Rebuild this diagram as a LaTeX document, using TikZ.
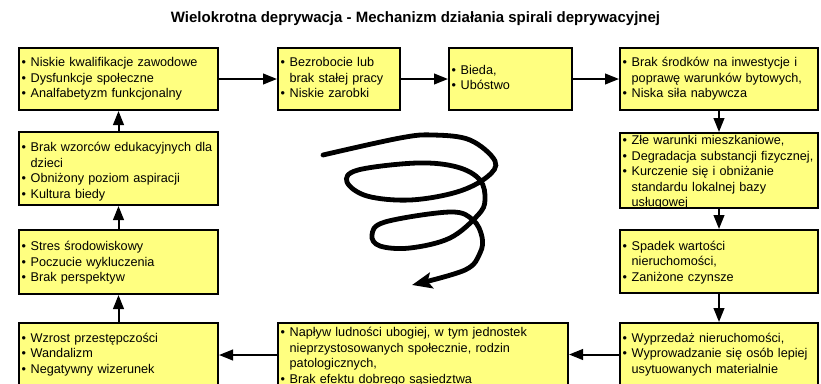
\documentclass[tikz,border=0pt]{standalone}
\usepackage{fontspec}
\setmainfont{Liberation Sans}
\usetikzlibrary{arrows.meta}
\definecolor{boxyellow}{HTML}{FFFF80}
\newcommand\bul{\makebox[6.75pt][l]{\textbullet}}
\newcommand\lst[1]{\noindent\begin{tabular}{@{}l@{}l@{}}#1\end{tabular}}
% shifted list: #1 = move text down, #2 = trim top and bottom
\newcommand\lsts[3]{\noindent\raisebox{0pt}[\dimexpr\height+#1-#2][\dimexpr\depth-#1-#2]{\begin{tabular}{@{}l@{}l@{}}#3\end{tabular}}}
\begin{document}
\begin{tikzpicture}[x=0.75pt,y=-0.75pt,
  box/.style={draw=black, line width=1.5pt, fill=boxyellow, inner xsep=2pt, inner ysep=0pt,
    align=left, font=\fontsize{9.5}{11.6}\selectfont},
  wide/.style={box, text width=145.25pt},
  arr/.style={line width=1.5pt, -{Triangle[length=10.5pt,width=8pt]}},
  spiral/.style={line width=3.6pt, line cap=round, -{Stealth[length=15pt,width=12pt,inset=3pt]}}]
\useasboundingbox (0,0) rectangle (821,383);
\fill[white] (0,0) rectangle (821,383);
\clip (0,0) rectangle (821,383);

\node[font=\bfseries\fontsize{11.25}{13}\selectfont] (title) at (415.5,18.5)
  {Wielokrotna deprywacja - Mechanizm działania spirali deprywacyjnej};

% top row
\node[wide, minimum height=46.5pt] (b1) at (118.5,79)
  {\lst{\bul&Niskie kwalifikacje zawodowe\\ \bul&Dysfunkcje społeczne\\ \bul&Analfabetyzm funkcjonalny}};
\node[box, text width=87.5pt, minimum height=46.5pt] (b2) at (339,79)
  {\lst{\bul&Bezrobocie lub\\ &brak stałej pracy\\ \bul&Niskie zarobki}};
\node[box, text width=88.25pt, minimum height=46.5pt] (b3) at (510.5,79)
  {\lst{\bul&Bieda,\\ \bul&Ubóstwo}};
\node[box, text width=144.5pt, minimum height=46.5pt] (b4) at (719,79)
  {\lst{\bul&Brak środków na inwestycje i\\ &poprawę warunków bytowych,\\ \bul&Niska siła nabywcza}};

% right column
\node[box, text width=144.5pt, minimum height=56.25pt] (b5) at (719,170.5)
  {\lsts{1.5pt}{1pt}{\bul&Złe warunki mieszkaniowe,\\ \bul&Degradacja substancji fizycznej,\\ \bul&Kurczenie się i obniżanie\\ &standardu lokalnej bazy\\ &usługowej}};
\node[box, text width=144.5pt, minimum height=47.25pt] (b6) at (719,261.5)
  {\lsts{0.8pt}{0pt}{\bul&Spadek wartości\\ &nieruchomości,\\ \bul&Zaniżone czynsze}};
\node[box, text width=144.5pt, minimum height=47.25pt] (b7) at (719,354.5)
  {\lst{\bul&Wyprzedaż nieruchomości,\\ \bul&Wyprowadzanie się osób lepiej\\ &usytuowanych materialnie}};

% bottom middle
\node[box, text width=213.5pt, minimum height=48pt] (b8) at (423,355)
  {\lsts{1.5pt}{0pt}{\bul&Napływ ludności ubogiej, w tym jednostek\\ &nieprzystosowanych społecznie, rodzin\\ &patologicznych,\\ \bul&Brak efektu dobrego sąsiedztwa}};

% left column
\node[wide, minimum height=47.25pt] (b9) at (118.5,354.5)
  {\lst{\bul&Wzrost przestępczości\\ \bul&Wandalizm\\ \bul&Negatywny wizerunek}};
\node[wide, minimum height=48pt] (b10) at (118.5,262)
  {\lsts{0.8pt}{0pt}{\bul&Stres środowiskowy\\ \bul&Poczucie wykluczenia\\ \bul&Brak perspektyw}};
\node[wide, minimum height=54.75pt] (b11) at (118.5,168.5)
  {\lsts{2.6pt}{0pt}{\bul&Brak wzorców edukacyjnych dla\\ &dzieci\\ \bul&Obniżony poziom aspiracji\\ \bul&Kultura biedy}};

% connectors
\draw[arr] (b1) -- (b2);
\draw[arr] (b2) -- (b3);
\draw[arr] (b3) -- (b4);
\draw[arr] (b4) -- (b5);
\draw[arr] (b5) -- (b6);
\draw[arr] (b6) -- (b7);
\draw[arr] (b7.west) -- (b7.west -| b8.east);
\draw[arr] (b8.west) -- (b8.west -| b9.east);
\draw[arr] (b9) -- (b10);
\draw[arr] (b10) -- (b11);
\draw[arr] (b11) -- (b1);

% spiral
\draw[spiral] plot[smooth, tension=0.6] coordinates {
 (323,155) (400,138) (433,135) (470,140) (495,161) (487,177) (457,192) (410,200)
 (367,196) (347,182) (358,170) (417,163) (457,167) (480,180) (485,200) (478,215)
 (450,238) (410,248) (380,246) (372,235) (385,222) (450,212) (473,220) (482,237)
 (480,253) (465,270) (412,285)};
\end{tikzpicture}
\end{document}
